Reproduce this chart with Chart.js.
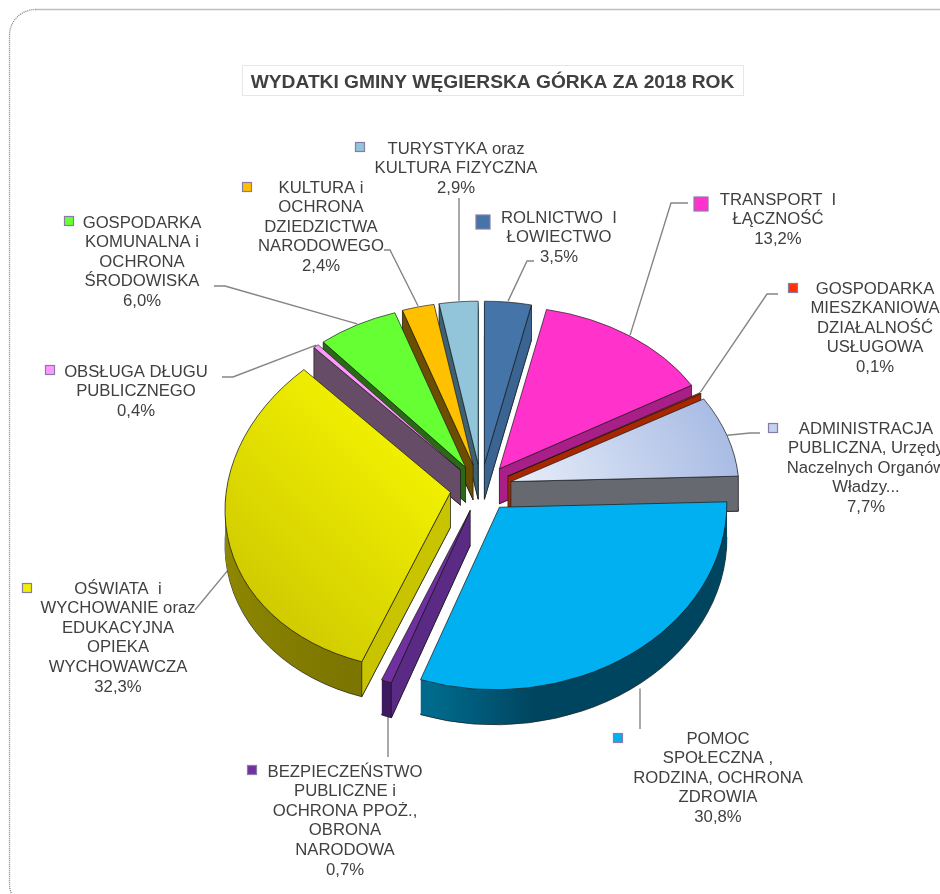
<!DOCTYPE html>
<html lang="pl">
<head>
<meta charset="utf-8">
<title>Wydatki gminy</title>
<script src="https://cdn.jsdelivr.net/npm/chart.js@4/dist/chart.umd.js"></script>
<style>
    html, body { margin: 0; padding: 0; background: #fff; overflow: hidden; }
    canvas { display: block; }
</style>
</head>
<body>
<canvas id="wykres" width="940" height="894"></canvas>
<script>
const tytul = "WYDATKI GMINY WĘGIERSKA GÓRKA ZA 2018 ROK";

const kategorie = [
    ["ROLNICTWO  I", "ŁOWIECTWO"],
    ["TRANSPORT  I", "ŁĄCZNOŚĆ"],
    ["GOSPODARKA", "MIESZKANIOWA", "DZIAŁALNOŚĆ", "USŁUGOWA"],
    ["ADMINISTRACJA", "PUBLICZNA, Urzędy", "Naczelnych Organów", "Władzy..."],
    ["POMOC", "SPOŁECZNA ,", "RODZINA, OCHRONA", "ZDROWIA"],
    ["BEZPIECZEŃSTWO", "PUBLICZNE i", "OCHRONA PPOŻ.,", "OBRONA", "NARODOWA"],
    ["OŚWIATA  i", "WYCHOWANIE oraz", "EDUKACYJNA", "OPIEKA", "WYCHOWAWCZA"],
    ["OBSŁUGA DŁUGU", "PUBLICZNEGO"],
    ["GOSPODARKA", "KOMUNALNA i", "OCHRONA", "ŚRODOWISKA"],
    ["KULTURA i", "OCHRONA", "DZIEDZICTWA", "NARODOWEGO"],
    ["TURYSTYKA oraz", "KULTURA FIZYCZNA"]
];
const wartosci = [3.5, 13.2, 0.1, 7.7, 30.8, 0.7, 32.3, 0.4, 6.0, 2.4, 2.9];

const kolory = ["#4474a8", "#ff33cc", "#ff3300", "#c4d2ee", "#00b0f0", "#7030a0", "#f0f000", "#ff99ff", "#66ff33", "#ffc000", "#92c5da"];
const koloryBoku = ["#3a6593", "#a81f88", "#a82600", "#66696f", "#00455f", "#3e1a60", "#7c7500", "#664c66", "#2a6a14", "#6b4e00", "#3f6272"];
const koloryScianki = ["#3a6593", "#a81f88", "#a82600", "#66696f", "#00455f", "#5a2a85", "#c8c400", "#664c66", "#2a6a14", "#6b4e00", "#3f6272"];

// polozenie opisow: srodek tekstu, pierwsza linia, znacznik, zalamanie linii
const opisy = [
    { x: 559, y: 218, mx: 483, my: 222, ms: 14, linia: [[527, 261], [534, 261]] },
    { x: 778, y: 200, mx: 701, my: 204, ms: 14, linia: [[671, 203], [688, 203]] },
    { x: 875, y: 289, mx: 793, my: 288, ms: 9, linia: [[767, 294], [778, 294]] },
    { x: 866, y: 429, mx: 773, my: 428, ms: 9, linia: [[750, 433], [760, 433]] },
    { x: 718, y: 739, mx: 618, my: 738, ms: 9, pion: true, linia: [[640, 729]] },
    { x: 345, y: 772, mx: 252, my: 770, ms: 9, pion: true, linia: [[388, 757]] },
    { x: 118, y: 589, mx: 27, my: 588, ms: 9, linia: [[195, 610]] },
    { x: 136, y: 372, mx: 50, my: 370, ms: 9, linia: [[233, 377], [222, 377]] },
    { x: 142, y: 223, mx: 69, my: 221, ms: 9, linia: [[225, 286], [214, 286]] },
    { x: 321, y: 188, mx: 247, my: 187, ms: 9, linia: [[390, 250], [384, 250]] },
    { x: 456, y: 149, mx: 360, my: 147, ms: 9, pion: true, linia: [[459, 198]] }
];

const PROMIEN = 228;
const WYSUNIECIE = 31;
const SPLASZCZENIE = 0.77;
const GLEBOKOSC = 35;
const WIERSZ = 19.6;
// perspektywa: tyl kola jest wezszy i bardziej splaszczony niz przod
const PERSPEKTYWA = 0.000254;
const POCHYLENIE = 0.7565;

function procent(v) {
    return v.toFixed(1).replace(".", ",") + "%";
}

function rzut(kat) {
    const w = 1 - PERSPEKTYWA * PROMIEN * Math.sin(kat);
    return [PROMIEN * Math.cos(kat) / w, POCHYLENIE * PROMIEN * Math.sin(kat) / w];
}

// afiniczne odwzorowanie wycinka: wierzcholek i oba narozniki trafiaja w rzut
function geometria(arc) {
    const mid = (arc.startAngle + arc.endAngle) / 2;
    const ax = arc.x + Math.cos(mid) * WYSUNIECIE;
    const ay = arc.y + Math.sin(mid) * WYSUNIECIE * SPLASZCZENIE;
    const u1 = [PROMIEN * Math.cos(arc.startAngle), PROMIEN * Math.sin(arc.startAngle)];
    const u2 = [PROMIEN * Math.cos(arc.endAngle), PROMIEN * Math.sin(arc.endAngle)];
    const v1 = rzut(arc.startAngle);
    const v2 = rzut(arc.endAngle);
    const det = u1[0] * u2[1] - u2[0] * u1[1];
    const a = (v1[0] * u2[1] - v2[0] * u1[1]) / det;
    const c = (v2[0] * u1[0] - v1[0] * u2[0]) / det;
    const b = (v1[1] * u2[1] - v2[1] * u1[1]) / det;
    const d = (v2[1] * u1[0] - v1[1] * u2[0]) / det;
    return {
        mid: mid, ax: ax, ay: ay, a: a, b: b, c: c, d: d,
        punkt(kat) {
            const x = PROMIEN * Math.cos(kat);
            const y = PROMIEN * Math.sin(kat);
            return [ax + a * x + c * y, ay + b * x + d * y];
        }
    };
}

function rysujWarstwe(ctx, arc, g, dy, wypelnienie, obrys, gruboscObrysu) {
    const stare = arc.options;
    arc.options = Object.assign({}, stare, {
        backgroundColor: wypelnienie,
        borderColor: obrys,
        borderWidth: gruboscObrysu,
        offset: 0
    });
    ctx.save();
    ctx.translate(0, dy);
    ctx.transform(g.a, g.b, g.c, g.d,
        g.ax - g.a * arc.x - g.c * arc.y,
        g.ay - g.b * arc.x - g.d * arc.y);
    arc.draw(ctx);
    ctx.restore();
    arc.options = stare;
}

function rysujScianke(ctx, g, kat, kolor) {
    const p = g.punkt(kat);
    ctx.beginPath();
    ctx.moveTo(g.ax, g.ay);
    ctx.lineTo(p[0], p[1]);
    ctx.lineTo(p[0], p[1] + GLEBOKOSC);
    ctx.lineTo(g.ax, g.ay + GLEBOKOSC);
    ctx.closePath();
    ctx.fillStyle = kolor;
    ctx.fill();
    ctx.strokeStyle = "#1a1a1a";
    ctx.lineWidth = 0.7;
    ctx.stroke();
}

function kolorGory(ctx, arc, i) {
    if (i === 3) {
        const gr = ctx.createRadialGradient(arc.x, arc.y, 0, arc.x, arc.y, PROMIEN);
        gr.addColorStop(0, "#e8eefa");
        gr.addColorStop(1, "#a9bce4");
        return gr;
    }
    if (i === 6) {
        const gr = ctx.createLinearGradient(arc.x, arc.y - 60, arc.x - 220, arc.y + 110);
        gr.addColorStop(0, "#f6f600");
        gr.addColorStop(1, "#cfc900");
        return gr;
    }
    return kolory[i];
}

function kolorBoku(ctx, arc, i) {
    if (i === 4) {
        const gr = ctx.createLinearGradient(arc.x - 60, 0, arc.x + 40, 0);
        gr.addColorStop(0, "#006a8c");
        gr.addColorStop(1, koloryBoku[i]);
        return gr;
    }
    if (i === 6) {
        const gr = ctx.createLinearGradient(arc.x - 230, 0, arc.x - 100, 0);
        gr.addColorStop(0, "#8d8700");
        gr.addColorStop(1, koloryBoku[i]);
        return gr;
    }
    return koloryBoku[i];
}

const pie3d = {
    id: "pie3d",
    beforeDatasetDraw(chart) {
        const ctx = chart.ctx;
        const luki = chart.getDatasetMeta(0).data;

        // linie odniesienia pod wycinkami
        ctx.save();
        ctx.strokeStyle = "#858585";
        ctx.lineWidth = 1.4;
        luki.forEach((arc, i) => {
            const g = geometria(arc);
            const o = opisy[i];
            const p = g.punkt(g.mid);
            const sx = o.pion ? o.linia[0][0] : p[0];
            const sy = Math.sin(g.mid) > 0 ? p[1] + GLEBOKOSC : p[1];
            ctx.beginPath();
            ctx.moveTo(sx, sy - 1);
            o.linia.forEach(q => ctx.lineTo(q[0], q[1]));
            ctx.stroke();
        });
        ctx.restore();

        // od tylu do przodu
        const kolejnosc = luki.map((arc, i) => i).sort((a, b) => {
            return Math.sin((luki[a].startAngle + luki[a].endAngle) / 2) - Math.sin((luki[b].startAngle + luki[b].endAngle) / 2);
        });
        kolejnosc.forEach(i => {
            const arc = luki[i];
            const g = geometria(arc);
            const bok = kolorBoku(ctx, arc, i);
            rysujWarstwe(ctx, arc, g, GLEBOKOSC, bok, "#1a1a1a", 0.8);
            for (let dy = GLEBOKOSC - 1; dy > 0; dy--) {
                rysujWarstwe(ctx, arc, g, dy, bok, bok, 0);
            }
            if (Math.cos(arc.startAngle) < 0) {
                rysujScianke(ctx, g, arc.startAngle, koloryScianki[i]);
            }
            if (Math.cos(arc.endAngle) > 0) {
                rysujScianke(ctx, g, arc.endAngle, koloryScianki[i]);
            }
            rysujWarstwe(ctx, arc, g, 0, kolorGory(ctx, arc, i), "#1a1a1a", 0.8);
        });
        return false;
    },
    afterDraw(chart) {
        const ctx = chart.ctx;
        ctx.save();

        // ramka
        ctx.strokeStyle = "#808080";
        ctx.lineWidth = 1.3;
        ctx.setLineDash([1, 1]);
        ctx.beginPath();
        ctx.roundRect(9.5, 9.5, 1000, 900, 26);
        ctx.stroke();
        ctx.setLineDash([]);

        // tytul
        ctx.fillStyle = "#ffffff";
        ctx.strokeStyle = "#e6e6e6";
        ctx.lineWidth = 1;
        ctx.fillRect(242.5, 65.5, 501, 30);
        ctx.strokeRect(242.5, 65.5, 501, 30);
        ctx.fillStyle = "#404040";
        ctx.font = "bold 19.2px 'Liberation Sans'";
        ctx.textAlign = "center";
        ctx.textBaseline = "middle";
        ctx.fillText(tytul, 492.5, 83);

        // opisy wycinkow
        ctx.font = "16.7px 'Liberation Sans'";
        kategorie.forEach((linie, i) => {
            const o = opisy[i];
            ctx.fillStyle = "#404040";
            linie.concat(procent(wartosci[i])).forEach((t, n) => {
                ctx.fillText(t, o.x, o.y + n * WIERSZ);
            });
            ctx.fillStyle = kolory[i];
            ctx.strokeStyle = "#8a7aa8";
            ctx.lineWidth = 1.2;
            ctx.fillRect(o.mx - o.ms / 2, o.my - o.ms / 2, o.ms, o.ms);
            ctx.strokeRect(o.mx - o.ms / 2, o.my - o.ms / 2, o.ms, o.ms);
        });
        ctx.restore();
    }
};

new Chart(document.getElementById("wykres").getContext("2d"), {
    type: "pie",
    data: {
        labels: kategorie.map(k => k.join(" ")),
        datasets: [{
            data: wartosci,
            backgroundColor: kolory,
            borderWidth: 0
        }]
    },
    options: {
        responsive: false,
        animation: false,
        radius: PROMIEN,
        layout: { padding: { left: 22, top: 82 } },
        plugins: {
            legend: { display: false },
            title: { display: false },
            tooltip: { enabled: false }
        }
    },
    plugins: [pie3d]
});
</script>
</body>
</html>
